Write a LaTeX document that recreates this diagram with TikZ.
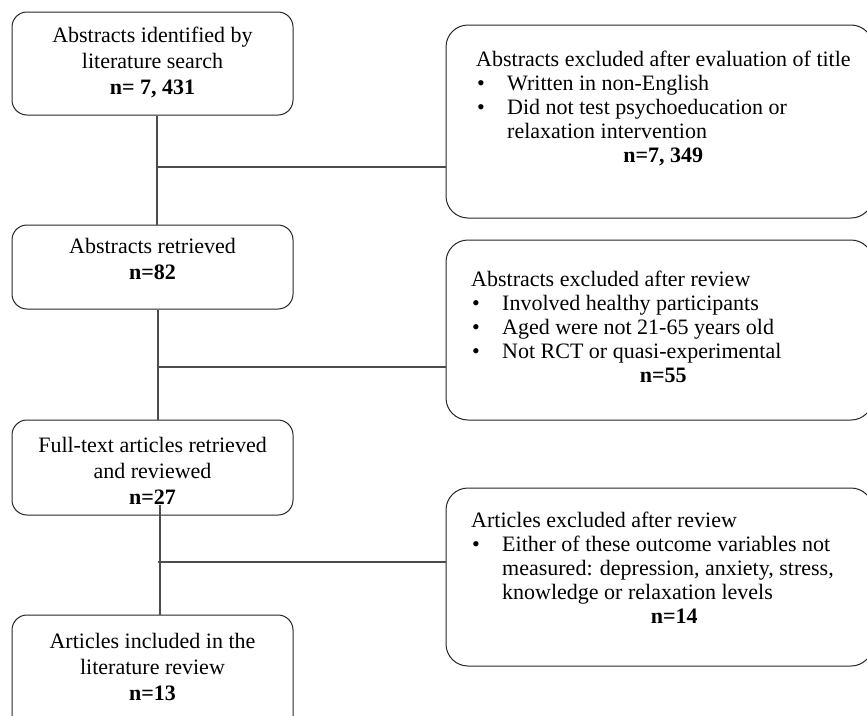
\documentclass[tikz,border=0pt]{standalone}
\usepackage{fontspec}
\setmainfont{Liberation Serif}
\newcommand{\rbul}{\makebox[31pt][l]{\hspace{1pt}\textbullet}}
\begin{document}
\begin{tikzpicture}[x=1pt,y=-1pt,
  lbox/.style={draw=black!85, line width=1pt, rounded corners=15pt, inner sep=0pt, minimum width=281pt},
  rbox/.style={draw=black!85, line width=1pt, rounded corners=22pt, inner sep=0pt, minimum width=427pt},
  ltext/.style={inner sep=0pt, align=center, font=\fontsize{22}{26}\selectfont},
  rtext/.style={inner sep=0pt, anchor=north west, align=left, font=\fontsize{22}{24}\selectfont},
  conn/.style={draw=black!70, line width=1.2pt}]
\useasboundingbox (0,0) rectangle (867,715);
\clip (0,0) rectangle (867,715);
% boxes
\node[lbox, minimum height=103pt] (L1) at (152.5,63.5) {};
\node[lbox, minimum height=84pt] (L2) at (152.5,267) {};
\node[lbox, minimum height=95pt] (L3) at (152.5,467.5) {};
\node[lbox, minimum height=145pt] (L4) at (152.5,687.5) {};
\node[rbox, minimum height=193pt] (R1) at (659.5,121.5) {};
\node[rbox, minimum height=180pt] (R2) at (659.5,330) {};
\node[rbox, minimum height=178pt] (R3) at (659.5,577) {};
% texts
\node[ltext] (L1t) at (152.5,62) {Abstracts identified by\\literature search\\\textbf{n= 7, 431}};
\node[ltext] (L2t) at (152.5,259) {Abstracts retrieved\\\textbf{n=82}};
\node[ltext] (L3t) at (152.5,471) {Full-text articles retrieved\\and reviewed\\\textbf{n=27}};
\node[ltext] (L4t) at (152.5,667) {Articles included in the\\literature review\\\textbf{n=13}};
\node[rtext] (R1t) at (476,51) {Abstracts excluded after evaluation of title\\
\rbul Written in non-English\\
\rbul Did not test psychoeducation or\\
\hspace*{31pt}relaxation intervention\\
\makebox[374pt][c]{\textbf{n=7, 349}}};
\node[rtext] (R2t) at (471,271) {Abstracts excluded after review\\
\rbul Involved healthy participants\\
\rbul Aged were not 21-65 years old\\
\rbul Not RCT or quasi-experimental\\
\makebox[384pt][c]{\textbf{n=55}}};
\node[rtext] (R3t) at (471,512) {Articles excluded after review\\
\rbul Either of these outcome variables not\\
\hspace*{31pt}measured: depression, anxiety, stress,\\
\hspace*{31pt}knowledge or relaxation levels\\
\makebox[406pt][c]{\textbf{n=14}}};
% connectors
\coordinate (j1) at (157,167);
\coordinate (j2) at (158,367);
\coordinate (j3) at (158,562);
\draw[conn] ([xshift=4.5pt]L1.south) -- ([xshift=4.5pt]L2.north);
\draw[conn] ([xshift=1pt]j1) -- (j1 -| R1.west);
\draw[conn] ([xshift=5.5pt]L2.south) -- ([xshift=5.5pt]L3.north);
\draw[conn] ([xshift=1pt]j2) -- (j2 -| R2.west);
\draw[conn] ([xshift=7.5pt,yshift=11pt]L3.south) -- ([xshift=7.5pt]L4.north);
\draw[conn] (j3) -- (j3 -| R3.west);
\end{tikzpicture}
\end{document}
